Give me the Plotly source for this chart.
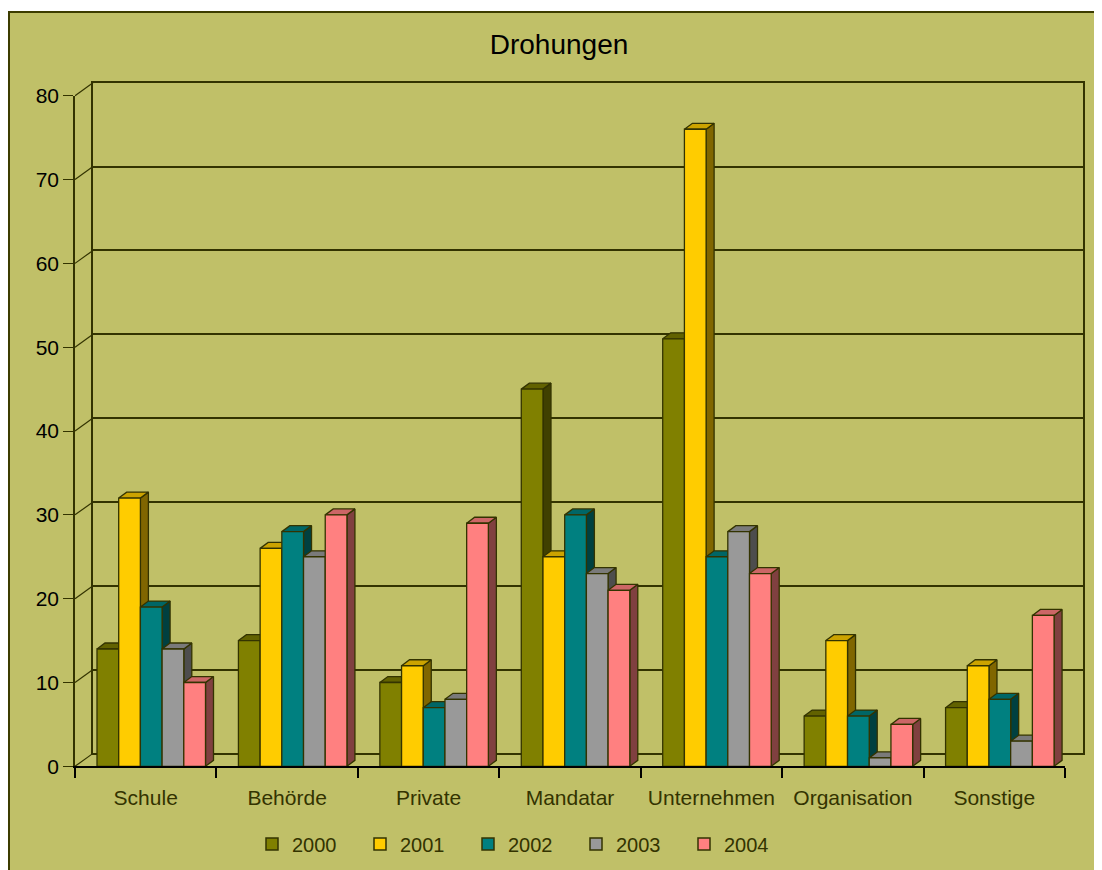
import plotly.graph_objects as go

# data
categories = ["Schule", "Behörde", "Private", "Mandatar", "Unternehmen", "Organisation", "Sonstige"]
years = ["2000", "2001", "2002", "2003", "2004"]
v2000 = [14, 15, 10, 45, 51, 6, 7]
v2001 = [32, 26, 12, 25, 76, 15, 12]
v2002 = [19, 28, 7, 30, 25, 6, 8]
v2003 = [14, 25, 8, 23, 28, 1, 3]
v2004 = [10, 30, 29, 21, 23, 5, 18]
y_ticks = list(range(0, 81, 10))

series = [v2000, v2001, v2002, v2003, v2004]
front_col = ["#808000", "#FFCC00", "#008080", "#999999", "#FF8080"]
top_col = ["#626200", "#CCA300", "#006666", "#7A7A7A", "#CC6666"]
side_col = ["#404000", "#806600", "#004040", "#4D4D4D", "#804040"]
edge = "#333300"
bg = "#C0C068"
font = "Liberation Sans, Arial, sans-serif"

# page has an 8px body margin; plotly also keeps ~10px above and below the paper
OFF = 8
W, H = 1102 - OFF, 870 - OFF
PTOP = OFF + 10
PH = H - 20


def fx(px):
    return (px - OFF) / W


def fy(py):
    return (PH - (py - PTOP)) / PH


# pixel geometry of the fake 3d box (window pixels)
FL, FR, FB, FT = 75, 1065, 767, 94  # front plane
DX, DY = 18, 13  # depth of the walls
BDX, BDY = 8, 6  # depth of a bar
ymax = 80
ux = (FR - FL) / len(categories)
uy = (FB - FT) / ymax
bar_w = 21.7 / ux
off0 = 22.0 / ux
bdx, bdy = BDX / ux, BDY / uy
wdx, wdy = DX / ux, DY / uy

fig = go.Figure()

# back wall subplot needs a trace
fig.add_trace(go.Scatter(x=[None], y=[None], xaxis="x", yaxis="y", showlegend=False, hoverinfo="skip"))

# left wall diagonals
for v in y_ticks:
    fig.add_trace(go.Scatter(x=[-0.5, -0.5 + wdx], y=[v, v + wdy], mode="lines", line=dict(color=edge, width=1.2),
                             xaxis="x2", yaxis="y2", showlegend=False, hoverinfo="skip"))


def polys(j, face):
    xs, ys = [], []
    for i, v in enumerate(series[j]):
        L = i - 0.5 + off0 + j * bar_w
        R = L + bar_w
        if face == "side":
            px = [R, R + bdx, R + bdx, R, R]
            py = [0, bdy, v + bdy, v, 0]
        elif face == "top":
            px = [L, L + bdx, R + bdx, R, L]
            py = [v, v + bdy, v + bdy, v, v]
        else:
            px = [L, R, R, L, L]
            py = [0, 0, v, v, 0]
        xs += px + [None]
        ys += py + [None]
    return xs, ys


for j in range(len(series)):
    xs, ys = polys(j, "side")
    fig.add_trace(go.Scatter(x=xs, y=ys, fill="toself", fillcolor=side_col[j], mode="lines",
                             line=dict(color=edge, width=1.3), xaxis="x2", yaxis="y2",
                             showlegend=False, hoverinfo="skip"))
for j in range(len(series)):
    for face, col in (("top", top_col[j]), ("front", front_col[j])):
        xs, ys = polys(j, face)
        fig.add_trace(go.Scatter(x=xs, y=ys, fill="toself", fillcolor=col, mode="lines",
                                 line=dict(color=edge, width=1.3), xaxis="x2", yaxis="y2",
                                 showlegend=False, hoverinfo="skip"))

# legend entries
for j, yr in enumerate(years):
    fig.add_trace(go.Bar(x=[categories[0]], y=[None], name=yr, xaxis="x3", yaxis="y3",
                         marker=dict(color=front_col[j], line=dict(color=edge, width=1.5))))

fig.update_layout(
    width=W, height=H,
    margin=dict(l=0, r=0, t=0, b=0),
    paper_bgcolor="white",
    plot_bgcolor="rgba(0,0,0,0)",
    font=dict(family=font, color="black"),
    title=dict(text="Drohungen", x=fx(559), y=(H - (44 - OFF)) / H, xanchor="center", yanchor="middle",
               font=dict(size=28, color="black", family=font)),
    showlegend=True,
    legend=dict(orientation="h", x=fx(252), y=fy(845), xanchor="left", yanchor="middle",
                bgcolor="rgba(0,0,0,0)", font=dict(size=20, color=edge), entrywidth=63),
    xaxis=dict(domain=[fx(FL + DX), fx(FR + DX)], range=[0, 1], anchor="y", showgrid=False, zeroline=False,
               showticklabels=False, ticks="", showline=True, mirror=True, linecolor=edge, linewidth=1.5,
               layer="below traces", fixedrange=True),
    yaxis=dict(domain=[fy(FB - DY), fy(FT - DY)], range=[0, ymax], anchor="x", tick0=0, dtick=10,
               showgrid=True, gridcolor=edge, gridwidth=1.5, zeroline=False, showticklabels=False, ticks="",
               showline=True, mirror=True, linecolor=edge, linewidth=1.5, layer="below traces", fixedrange=True),
    xaxis2=dict(domain=[fx(FL), fx(FR + DX)], range=[-0.5, len(categories) - 0.5 + wdx], anchor="y2",
                visible=False, fixedrange=True),
    yaxis2=dict(domain=[fy(FB), fy(FT - DY)], range=[0, ymax + wdy], anchor="x2", visible=False, fixedrange=True),
    xaxis3=dict(domain=[fx(FL), fx(FR)], type="category", categoryorder="array", categoryarray=categories,
                range=[-0.5, len(categories) - 0.5], anchor="y3", tickson="boundaries", ticks="outside",
                ticklen=10, tickwidth=1.5, tickcolor="black", showline=True, linecolor="black", linewidth=1.5,
                showgrid=False, zeroline=False, tickfont=dict(size=21, color=edge), ticklabelstandoff=12,
                fixedrange=True),
    yaxis3=dict(domain=[fy(FB), fy(FT)], range=[0, ymax], anchor="x3", tickvals=y_ticks, ticks="outside",
                ticklen=10, tickwidth=1.2, tickcolor=edge, showline=True, linecolor=edge, linewidth=1.5,
                showgrid=False, zeroline=False, tickfont=dict(size=21, color="black"), fixedrange=True),
    shapes=[dict(type="rect", xref="paper", yref="paper", x0=fx(9), y0=-0.05, x1=1.02, y1=fy(10),
                 fillcolor=bg, line=dict(color="#3c3c00", width=2), layer="below")],
)

fig.write_html("out.html")
